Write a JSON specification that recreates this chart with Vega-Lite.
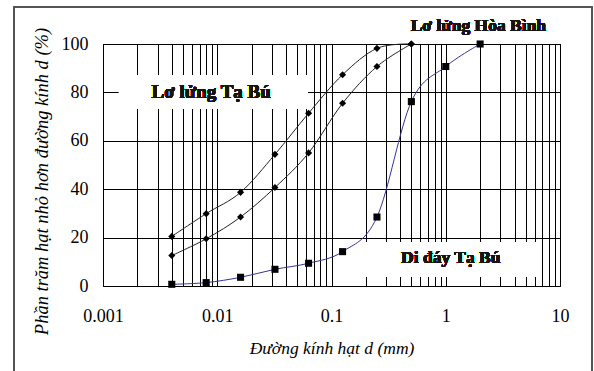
{
  "$schema": "https://vega.github.io/schema/vega-lite/v6.json",
  "autosize": "none",
  "width": 457,
  "height": 242,
  "padding": {"left": 103, "top": 44, "right": 34, "bottom": 85},
  "background": "white",
  "config": {
    "font": "Liberation Serif",
    "view": {"stroke": "black", "strokeWidth": 1},
    "axis": {"grid": true, "gridColor": "black", "gridOpacity": 1, "gridWidth": 1, "ticks": false, "domain": false, "labelColor": "black", "titleColor": "black", "labelFont": "Liberation Serif", "titleFont": "Liberation Serif"}
  },
  "data": {
    "values": [
      {"series": "Lơ lửng Hòa Bình", "d": 0.004, "p": 20.5},
      {"series": "Lơ lửng Hòa Bình", "d": 0.008, "p": 29.9},
      {"series": "Lơ lửng Hòa Bình", "d": 0.016, "p": 38.7},
      {"series": "Lơ lửng Hòa Bình", "d": 0.032, "p": 54.4},
      {"series": "Lơ lửng Hòa Bình", "d": 0.063, "p": 71.4},
      {"series": "Lơ lửng Hòa Bình", "d": 0.125, "p": 87.3},
      {"series": "Lơ lửng Hòa Bình", "d": 0.25, "p": 98.2},
      {"series": "Lơ lửng Hòa Bình", "d": 0.5, "p": 100},
      {"series": "Lơ lửng Tạ Bú", "d": 0.004, "p": 12.6},
      {"series": "Lơ lửng Tạ Bú", "d": 0.008, "p": 19.5},
      {"series": "Lơ lửng Tạ Bú", "d": 0.016, "p": 28.5},
      {"series": "Lơ lửng Tạ Bú", "d": 0.032, "p": 40.7},
      {"series": "Lơ lửng Tạ Bú", "d": 0.063, "p": 55.0},
      {"series": "Lơ lửng Tạ Bú", "d": 0.125, "p": 75.5},
      {"series": "Lơ lửng Tạ Bú", "d": 0.25, "p": 90.7},
      {"series": "Lơ lửng Tạ Bú", "d": 0.5, "p": 100},
      {"series": "Di đáy Tạ Bú", "d": 0.004, "p": 0.7},
      {"series": "Di đáy Tạ Bú", "d": 0.008, "p": 1.4},
      {"series": "Di đáy Tạ Bú", "d": 0.016, "p": 3.6},
      {"series": "Di đáy Tạ Bú", "d": 0.032, "p": 6.9},
      {"series": "Di đáy Tạ Bú", "d": 0.063, "p": 9.4},
      {"series": "Di đáy Tạ Bú", "d": 0.125, "p": 14.2},
      {"series": "Di đáy Tạ Bú", "d": 0.25, "p": 28.5},
      {"series": "Di đáy Tạ Bú", "d": 0.5, "p": 76.2},
      {"series": "Di đáy Tạ Bú", "d": 1, "p": 90.7},
      {"series": "Di đáy Tạ Bú", "d": 2, "p": 100}
    ]
  },
  "encoding": {
    "x": {
      "field": "d", "type": "quantitative",
      "scale": {"type": "log", "domain": [0.001, 10], "nice": false},
      "axis": {
        "title": "Đường kính hạt d (mm)",
        "titleFontStyle": "italic", "titleFontWeight": "normal", "titleFontSize": 17.5, "titlePadding": 14,
        "labelFontSize": 18, "labelPadding": 21,
        "values": [0.001, 0.002, 0.003, 0.004, 0.005, 0.006, 0.007, 0.008, 0.009, 0.01, 0.02, 0.03, 0.04, 0.05, 0.06, 0.07, 0.08, 0.09, 0.1, 0.2, 0.3, 0.4, 0.5, 0.6, 0.7, 0.8, 0.9, 1, 2, 3, 4, 5, 6, 7, 8, 9, 10],
        "format": "~g",
        "labelExpr": "abs(log(datum.value)/LN10 - round(log(datum.value)/LN10)) < 0.000001 ? datum.label : ''",
        "labelOverlap": false, "labelFlush": false
      }
    },
    "y": {
      "field": "p", "type": "quantitative",
      "scale": {"domain": [0, 100], "nice": false, "zero": false},
      "axis": {
        "title": "Phần trăm hạt nhỏ hơn đường kính d (%)",
        "titleFontStyle": "italic", "titleFontWeight": "normal", "titleFontSize": 18.5, "titlePadding": 10,
        "titleY": 137,
        "labelFontSize": 18, "labelPadding": 15,
        "values": [0, 20, 40, 60, 80, 100]
      }
    }
  },
  "layer": [
    {
      "mark": {"type": "rect", "fill": null, "stroke": "#555555", "strokeWidth": 1, "clip": false},
      "encoding": {
        "x": {"datum": 0.000166, "type": "quantitative"},
        "x2": {"datum": 19.1},
        "y": {"datum": 115.3, "type": "quantitative"},
        "y2": {"datum": -40}
      }
    },
    {
      "mark": {"type": "rect", "fill": "white", "stroke": null},
      "encoding": {
        "x": {"datum": 0.00138, "type": "quantitative"},
        "x2": {"datum": 0.0615},
        "y": {"datum": 73.5, "type": "quantitative"},
        "y2": {"datum": 87.2}
      }
    },
    {
      "mark": {"type": "rect", "fill": "white", "stroke": null},
      "encoding": {
        "x": {"datum": 0.199, "type": "quantitative"},
        "x2": {"datum": 6.15},
        "y": {"datum": 3.7, "type": "quantitative"},
        "y2": {"datum": 18.2}
      }
    },
    {
      "mark": {"type": "line", "interpolate": "cardinal", "strokeWidth": 1},
      "encoding": {
        "color": {"field": "series", "type": "nominal", "legend": null,
          "scale": {"domain": ["Lơ lửng Hòa Bình", "Lơ lửng Tạ Bú", "Di đáy Tạ Bú"], "range": ["#222222", "#222222", "#333399"]}},
        "detail": {"field": "series"}
      }
    },
    {
      "mark": {"type": "point", "filled": true, "opacity": 1, "color": "black"},
      "encoding": {
        "shape": {"field": "series", "type": "nominal", "legend": null,
          "scale": {"domain": ["Lơ lửng Hòa Bình", "Lơ lửng Tạ Bú", "Di đáy Tạ Bú"], "range": ["diamond", "diamond", "square"]}},
        "size": {"field": "series", "type": "nominal", "legend": null,
          "scale": {"domain": ["Lơ lửng Hòa Bình", "Lơ lửng Tạ Bú", "Di đáy Tạ Bú"], "range": [50, 50, 50]}}
      }
    },
    {
      "mark": {"type": "text", "fontSize": 19, "fontWeight": "bold", "color": "#1a1410", "clip": false},
      "encoding": {"x": {"datum": 0.00885, "type": "quantitative"}, "y": {"datum": 80, "type": "quantitative"}, "text": {"value": "Lơ lửng Tạ Bú"}}
    },
    {
      "mark": {"type": "text", "fontSize": 17.5, "fontWeight": "bold", "color": "#1a1410", "clip": false},
      "encoding": {"x": {"datum": 1.93, "type": "quantitative"}, "y": {"datum": 107.4, "type": "quantitative"}, "text": {"value": "Lơ lửng Hòa Bình"}}
    },
    {
      "mark": {"type": "text", "fontSize": 17.5, "fontWeight": "bold", "color": "#1a1410", "clip": false},
      "encoding": {"x": {"datum": 1.107, "type": "quantitative"}, "y": {"datum": 11.6, "type": "quantitative"}, "text": {"value": "Di đáy Tạ Bú"}}
    }
  ]
}
